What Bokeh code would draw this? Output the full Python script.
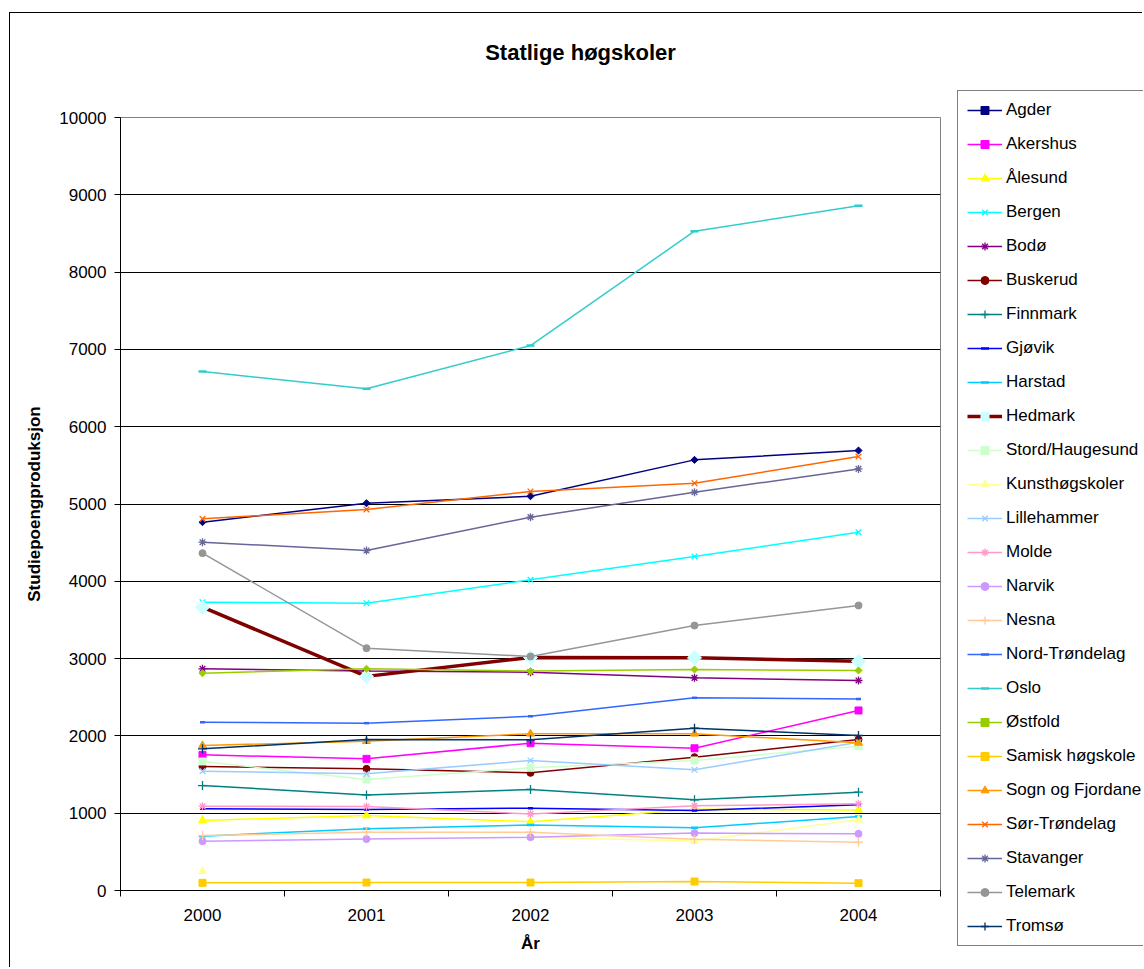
import math
from bokeh.plotting import figure
from bokeh.models import FixedTicker, Legend, LegendItem, Range1d, Label
from bokeh.embed import file_html
from bokeh.resources import INLINE

nan = float("nan")

years = ["2000", "2001", "2002", "2003", "2004"]
y_ticks = [0, 1000, 2000, 3000, 4000, 5000, 6000, 7000, 8000, 9000, 10000]

agder = [4765, 5010, 5100, 5571, 5692]
akershus = [1755, 1703, 1906, 1840, 2329]
alesund = [906, 970, 890, 1050, 1043]
bergen = [3730, 3717, 4019, 4321, 4635]
bodo = [2868, 2838, 2825, 2751, 2717]
buskerud = [1604, 1574, 1522, 1725, 1953]
finnmark = [1358, 1237, 1307, 1173, 1272]
gjovik = [1057, 1048, 1065, 1035, 1108]
harstad = [703, 800, 848, 811, 957]
hedmark = [3665, 2770, 3015, 3010, 2965]
stord = [1669, 1436, 1587, 1682, 1867]
kunst = [250, nan, 690, 640, 914]
lillehammer = [1544, 1509, 1682, 1562, 1918]
molde = [1091, 1087, 991, 1095, 1121]
narvik = [638, 665, 690, 743, 733]
nesna = [711, 755, 755, 662, 625]
nord_trondelag = [2177, 2165, 2254, 2493, 2478]
oslo = [6714, 6490, 7050, 8529, 8858]
ostfold = [2811, 2868, 2838, 2859, 2846]
samisk = [99, 103, 103, 116, 95]
sogn = [1876, 1931, 2027, 2027, 1910]
sor_trondelag = [4808, 4929, 5162, 5269, 5614]
stavanger = [4506, 4398, 4830, 5152, 5454]
telemark = [4364, 3135, 3027, 3428, 3687]
tromso = [1833, 1953, 1949, 2100, 2005]

TITLE = "Statlige høgskoler"
FONT = "Liberation Sans"
D = math.pi / 4

# name, values, line colour, marker, marker colour, size, angle, line width
series = [
    ("Agder", agder, "#000080", "square", "#000080", 5, D, 1.5),
    ("Akershus", akershus, "#FF00FF", "square", "#FF00FF", 7, 0, 1.5),
    ("Ålesund", alesund, "#FFFF00", "triangle", "#FFFF00", 8, 0, 1.5),
    ("Bergen", bergen, "#00FFFF", "x", "#00FFFF", 8, 0, 1.5),
    ("Bodø", bodo, "#800080", "asterisk", "#800080", 8, 0, 1.5),
    ("Buskerud", buskerud, "#800000", "circle", "#800000", 7, 0, 1.5),
    ("Finnmark", finnmark, "#008080", "cross", "#008080", 9, 0, 1.5),
    ("Gjøvik", gjovik, "#0000FF", "dash", "#0000FF", 5, 0, 1.5),
    ("Harstad", harstad, "#00CCFF", "dash", "#00CCFF", 7, 0, 1.5),
    ("Hedmark", hedmark, "#800000", "square", "#CCFFFF", 10, D, 3.5),
    ("Stord/Haugesund", stord, "#CCFFCC", "square", "#CCFFCC", 7, 0, 1.5),
    ("Kunsthøgskoler", kunst, "#FFFF99", "triangle", "#FFFF99", 8, 0, 1.5),
    ("Lillehammer", lillehammer, "#99CCFF", "x", "#99CCFF", 8, 0, 1.5),
    ("Molde", molde, "#FF99CC", "asterisk", "#FF99CC", 8, 0, 1.5),
    ("Narvik", narvik, "#CC99FF", "circle", "#CC99FF", 7, 0, 1.5),
    ("Nesna", nesna, "#FFCC99", "cross", "#FFCC99", 9, 0, 1.5),
    ("Nord-Trøndelag", nord_trondelag, "#3366FF", "dash", "#3366FF", 5, 0, 1.5),
    ("Oslo", oslo, "#33CCCC", "dash", "#33CCCC", 8, 0, 1.5),
    ("Østfold", ostfold, "#99CC00", "square", "#99CC00", 5, D, 1.5),
    ("Samisk høgskole", samisk, "#FFCC00", "square", "#FFCC00", 7, 0, 1.5),
    ("Sogn og Fjordane", sogn, "#FF9900", "triangle", "#FF9900", 8, 0, 1.5),
    ("Sør-Trøndelag", sor_trondelag, "#FF6600", "x", "#FF6600", 8, 0, 1.5),
    ("Stavanger", stavanger, "#666699", "asterisk", "#666699", 8, 0, 1.5),
    ("Telemark", telemark, "#969696", "circle", "#969696", 7, 0, 1.5),
    ("Tromsø", tromso, "#003366", "cross", "#003366", 9, 0, 1.5),
]

x_idx = list(range(len(years)))
W, H = 1133, 955
OX, OY = 10, 13  # page position of the canvas


def draw(fig, xs, vals, lc, mk, mc, sz, ang, lw):
    lr = fig.line(xs, vals, line_color=lc, line_width=lw)
    if mk in ("x", "asterisk", "cross"):
        sr = fig.scatter(xs, vals, marker=mk, size=sz, line_color=mc, line_width=1.3,
                         fill_color=None)
    elif mk == "dash":
        sr = fig.scatter(xs, vals, marker=mk, size=sz, line_color=mc, line_width=2.5)
    else:
        sr = fig.scatter(xs, vals, marker=mk, size=sz, angle=ang, line_color=mc,
                         fill_color=mc, line_width=1)
    return lr, sr


p = figure(width=W, height=H, output_backend="svg", toolbar_location=None,
           x_range=Range1d(-0.5, len(years) - 0.5), y_range=Range1d(0, 10000),
           min_border_left=110, min_border_top=104, min_border_right=203,
           min_border_bottom=78)
p.styles = {"border-left": "1px solid black", "border-top": "1px solid black",
            "position": "relative", "top": "12px", "left": "9px"}
p.background_fill_color = "white"
p.border_fill_color = "white"
p.outline_line_color = "#808080"
p.outline_line_width = 1

for name, vals, lc, mk, mc, sz, ang, lw in series:
    draw(p, x_idx, vals, lc, mk, mc, sz, ang, lw)

# axes
xa = p.xaxis[0]
xa.ticker = FixedTicker(ticks=x_idx, minor_ticks=[i - 0.5 for i in range(len(years) + 1)])
xa.major_label_overrides = {i: y for i, y in enumerate(years)}
xa.major_tick_out = 0
xa.major_tick_in = 0
xa.minor_tick_out = 6
xa.minor_tick_in = 0
xa.minor_tick_line_color = "black"
xa.major_label_standoff = 12
xa.axis_label = "År"
xa.axis_label_standoff = 10
ya = p.yaxis[0]
ya.ticker = FixedTicker(ticks=y_ticks)
ya.major_tick_out = 6
ya.major_tick_in = 0
ya.minor_tick_out = 0
ya.minor_tick_in = 0
ya.major_label_standoff = 8
ya.axis_label = "Studiepoengproduksjon"
ya.axis_label_standoff = 12
for ax in (xa, ya):
    ax.axis_line_color = "black"
    ax.major_tick_line_color = "black"
    ax.major_label_text_font = FONT
    ax.major_label_text_font_size = "17px"
    ax.major_label_text_color = "black"
    ax.axis_label_text_font = FONT
    ax.axis_label_text_font_size = "17px"
    ax.axis_label_text_font_style = "bold"
    ax.axis_label_text_color = "black"

p.xgrid.visible = False
p.ygrid.ticker = FixedTicker(ticks=y_ticks[1:-1])
p.ygrid.grid_line_color = "black"
p.ygrid.grid_line_width = 1

# transparent overlay canvas carrying the chart title and the legend
ov = figure(width=W, height=H, output_backend="svg", toolbar_location=None,
            x_range=Range1d(0, W), y_range=Range1d(0, H),
            x_axis_location=None, y_axis_location=None,
            min_border_left=0, min_border_right=0, min_border_top=0, min_border_bottom=0)
ov.styles = {"position": "absolute", "left": f"{OX}px", "top": f"{OY}px"}
ov.outline_line_color = None
ov.xgrid.visible = False
ov.ygrid.visible = False
ov.background_fill_alpha = 0
ov.border_fill_alpha = 0

ov.add_layout(Label(x=580 - OX, y=H - (52 - OY), text=TITLE, text_font=FONT,
                    text_font_size="22px", text_font_style="bold", text_color="black",
                    text_align="center", text_baseline="middle"))

items = []
for name, vals, lc, mk, mc, sz, ang, lw in series:
    lr, sr = draw(ov, [nan], [nan], lc, mk, mc, sz, ang, lw)
    items.append(LegendItem(label=name, renderers=[lr, sr]))

pad = 9
gh = 20
sp = 14
leg_h = 2 * pad + gh * len(items) + sp * (len(items) - 1)
legend = Legend(items=items, orientation="vertical")
legend.location = (957 - OX, H - (92 - OY) - leg_h)
legend.padding = pad
legend.spacing = sp
legend.margin = 0
legend.glyph_height = gh
legend.label_height = gh
legend.glyph_width = 35
legend.label_standoff = 4
legend.label_text_font = FONT
legend.label_text_font_size = "17px"
legend.label_text_color = "black"
legend.border_line_color = "black"
legend.border_line_width = 1
legend.background_fill_color = "white"
legend.background_fill_alpha = 1
ov.add_layout(legend)

open("out.html", "w").write(file_html([p, ov], INLINE))
